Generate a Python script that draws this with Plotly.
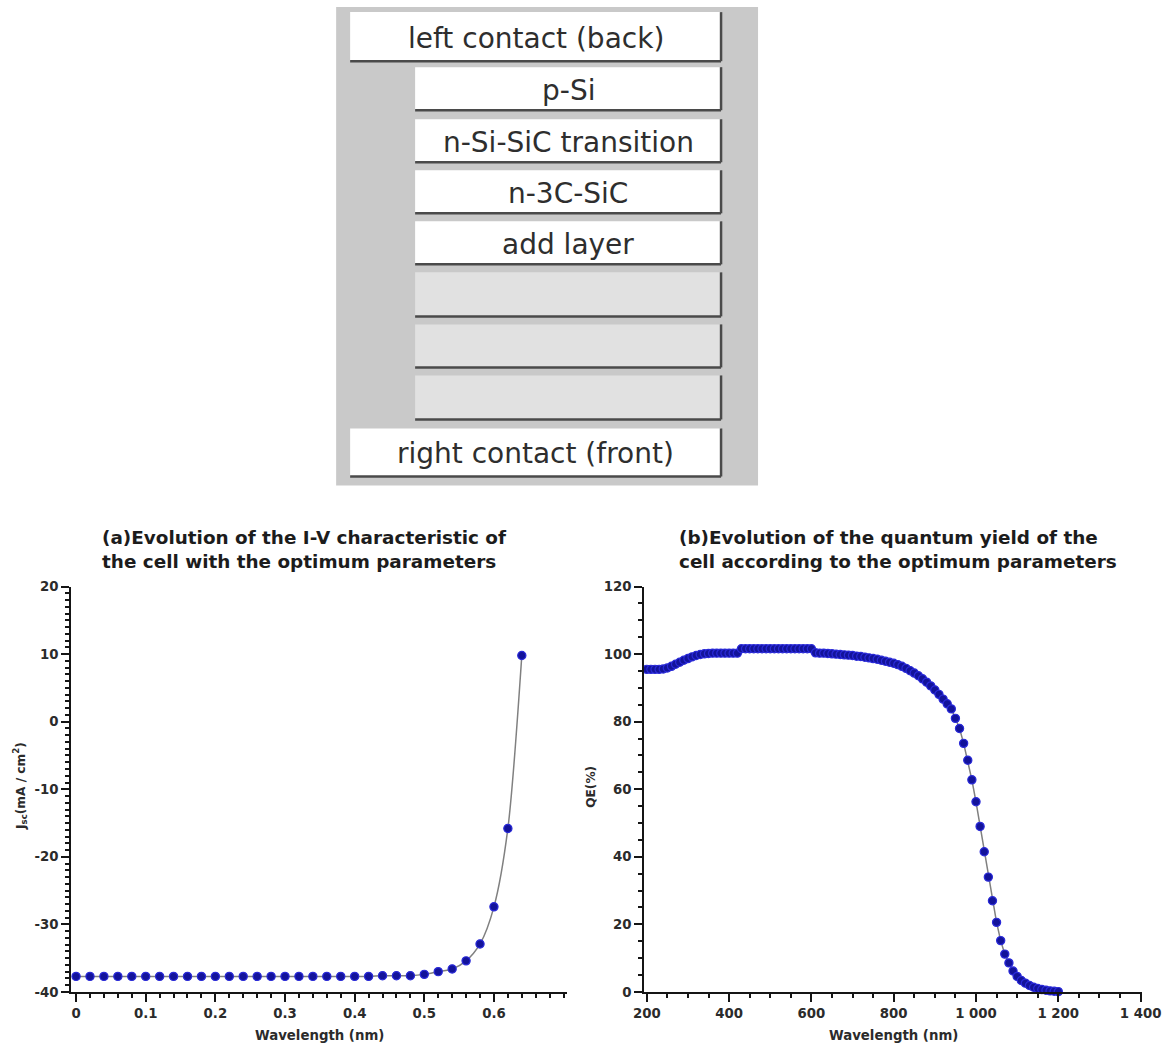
import plotly.graph_objects as go

# ---------------------------------------------------------------------------
# Data
# ---------------------------------------------------------------------------
# Layer stack of the simulated cell (top to bottom)
layer_labels = ["left contact (back)", "p-Si", "n-Si-SiC transition", "n-3C-SiC",
                "add layer", "", "", "", "right contact (front)"]

# (a) I-V characteristic
iv_voltage = [0.00, 0.02, 0.04, 0.06, 0.08, 0.10, 0.12, 0.14, 0.16, 0.18,
              0.20, 0.22, 0.24, 0.26, 0.28, 0.30, 0.32, 0.34, 0.36, 0.38,
              0.40, 0.42, 0.44, 0.46, 0.48, 0.50, 0.52, 0.54, 0.56, 0.58,
              0.60, 0.62, 0.64]
iv_current = [-37.7, -37.7, -37.7, -37.7, -37.7, -37.7, -37.7, -37.7, -37.7, -37.7,
              -37.7, -37.7, -37.7, -37.7, -37.7, -37.7, -37.7, -37.7, -37.7, -37.7,
              -37.7, -37.7, -37.6, -37.6, -37.6, -37.4, -37.0, -36.6, -35.4, -32.9,
              -27.4, -15.8, 9.8]
iv_xticks = [0, 0.1, 0.2, 0.3, 0.4, 0.5, 0.6]
iv_xticklabels = ["0", "0.1", "0.2", "0.3", "0.4", "0.5", "0.6"]
iv_yticks = [-40, -30, -20, -10, 0, 10, 20]
iv_yticklabels = ["-40", "-30", "-20", "-10", "0", "10", "20"]

# (b) quantum efficiency
qe_wavelength = [200, 210, 220, 230, 240, 250, 260, 270, 280, 290,
                 300, 310, 320, 330, 340, 350, 360, 370, 380, 390,
                 400, 410, 420, 430, 440, 450, 460, 470, 480, 490,
                 500, 510, 520, 530, 540, 550, 560, 570, 580, 590,
                 600, 610, 620, 630, 640, 650, 660, 670, 680, 690,
                 700, 710, 720, 730, 740, 750, 760, 770, 780, 790,
                 800, 810, 820, 830, 840, 850, 860, 870, 880, 890,
                 900, 910, 920, 930, 940, 950, 960, 970, 980, 990,
                 1000, 1010, 1020, 1030, 1040, 1050, 1060, 1070, 1080, 1090,
                 1100, 1110, 1120, 1130, 1140, 1150, 1160, 1170, 1180, 1190,
                 1200]
qe_percent = [95.5, 95.5, 95.5, 95.5, 95.6, 95.9, 96.4, 97.0, 97.6, 98.2,
              98.7, 99.2, 99.6, 99.9, 100.1, 100.2, 100.3, 100.3, 100.3, 100.3,
              100.3, 100.3, 100.3, 101.6, 101.6, 101.6, 101.6, 101.6, 101.6, 101.6,
              101.6, 101.6, 101.6, 101.6, 101.6, 101.6, 101.6, 101.6, 101.6, 101.6,
              101.6, 100.4, 100.3, 100.3, 100.2, 100.1, 100.0, 99.9, 99.8, 99.7,
              99.6, 99.4, 99.3, 99.1, 98.9, 98.7, 98.5, 98.2, 97.9, 97.6,
              97.3, 96.9, 96.4, 95.8, 95.1, 94.4, 93.6, 92.7, 91.7, 90.6,
              89.4, 88.1, 86.7, 85.3, 83.8, 81.0, 78.0, 73.6, 68.6, 62.8,
              56.3, 49.0, 41.5, 34.0, 27.0, 20.6, 15.2, 11.2, 8.6, 6.2,
              4.6, 3.4, 2.6, 1.9, 1.4, 1.0, 0.7, 0.5, 0.3, 0.2,
              0.1]
qe_xticks = [200, 400, 600, 800, 1000, 1200, 1400]
qe_xticklabels = ["200", "400", "600", "800", "1 000", "1 200", "1 400"]
qe_yticks = [0, 20, 40, 60, 80, 100, 120]

# ---------------------------------------------------------------------------
# Page geometry: layout positions are given in output-image pixels and
# converted to paper coordinates of a figure sitting inside the 8px body margin.
# ---------------------------------------------------------------------------
BODY_MARGIN = 8
SX, SY = 0.975, 0.985          # page-to-image scale of the capture
FIG_W, FIG_H = 1190, 1058
K = 1 / ((SX + SY) / 2)        # size factor for fonts and markers


def px(x):
    return (x / SX - BODY_MARGIN) / FIG_W


def py(y):
    return 1 - (y / SY - BODY_MARGIN) / FIG_H


INK = "#151515"
TICK_FONT = dict(family="DejaVu Sans", size=round(13 * K, 1), color="#2b2b2b",
                 weight="bold")
MARKER = dict(color="#13139a", size=round(8 * K, 1),
              line=dict(color="#2a2ad8", width=1.2))

fig = go.Figure()

fig.add_trace(go.Scatter(
    x=iv_voltage, y=iv_current, mode="lines+markers",
    line=dict(color="#808080", width=1.5, shape="spline", smoothing=0.8),
    marker=MARKER, cliponaxis=False, xaxis="x", yaxis="y", showlegend=False))

fig.add_trace(go.Scatter(
    x=qe_wavelength, y=qe_percent, mode="lines+markers",
    line=dict(color="#808080", width=1.5),
    marker=MARKER, cliponaxis=False, xaxis="x2", yaxis="y2",
    showlegend=False))


def axis_style(**kw):
    base = dict(showline=True, linecolor=INK, linewidth=2, ticks="outside",
                ticklen=8, tickwidth=2, tickcolor=INK, showgrid=False,
                zeroline=False, tickfont=TICK_FONT, fixedrange=True)
    base.update(kw)
    return base


def minor_style(dtick, tick0):
    return dict(dtick=dtick, tick0=tick0, ticks="outside", ticklen=4,
                tickwidth=1.5, tickcolor=INK, showgrid=False)


plot_y = [py(992), py(587)]

fig.update_layout(
    width=FIG_W, height=FIG_H, autosize=False,
    margin=dict(l=0, r=0, t=0, b=0),
    paper_bgcolor="white", plot_bgcolor="white",
    xaxis=axis_style(domain=[px(68), px(564)], range=[-0.007, 0.705], anchor="y",
                     tickmode="array", tickvals=iv_xticks, ticktext=iv_xticklabels,
                     minor=minor_style(0.02, 0)),
    yaxis=axis_style(domain=plot_y, range=[-40, 20], anchor="x",
                     tickmode="array", tickvals=iv_yticks, ticktext=iv_yticklabels,
                     minor=minor_style(1, 0)),
    xaxis2=axis_style(domain=[px(641), px(1139)], range=[193.4, 1403.3], anchor="y2",
                      tickmode="array", tickvals=qe_xticks, ticktext=qe_xticklabels,
                      minor=minor_style(50, 200)),
    yaxis2=axis_style(domain=plot_y, range=[0, 120], anchor="x2",
                      tickmode="array", tickvals=qe_yticks,
                      minor=minor_style(5, 0)),
)

shapes = []
annotations = []

# ---------------------------------------------------------------------------
# Layer-stack panel
# ---------------------------------------------------------------------------
shapes.append(dict(type="rect", xref="paper", yref="paper",
                   x0=px(333), x1=px(755), y0=py(486), y1=1,
                   fillcolor="#c9c9c9", line=dict(width=0), layer="below"))

button_boxes = [(347, 13, 718, 62), (412, 68, 718, 111), (412, 120, 718, 163),
                (412, 171, 718, 214), (412, 222, 718, 265), (412, 273, 718, 317),
                (412, 325, 718, 368), (412, 376, 718, 420), (347, 429, 718, 477)]

for label, (x0, y0, x1, y1) in zip(layer_labels, button_boxes):
    fill = "#ffffff" if label else "#e1e1e1"
    shapes.append(dict(type="rect", xref="paper", yref="paper",
                       x0=px(x0), x1=px(x1), y0=py(y1), y1=py(y0),
                       fillcolor=fill, line=dict(width=0), layer="below"))
    # raised-button shadow on the right and bottom edges
    shapes.append(dict(type="line", xref="paper", yref="paper",
                       x0=px(x1), x1=px(x1), y0=py(y1), y1=py(y0),
                       line=dict(color="#4a4a4a", width=2.5)))
    shapes.append(dict(type="line", xref="paper", yref="paper",
                       x0=px(x0), x1=px(x1), y0=py(y1), y1=py(y1),
                       line=dict(color="#4a4a4a", width=2.5)))
    if label:
        annotations.append(dict(
            text=label, xref="paper", yref="paper",
            x=px((x0 + x1) / 2), y=py((y0 + y1) / 2 + 1.5),
            xanchor="center", yanchor="middle", showarrow=False,
            font=dict(family="DejaVu Sans", size=28, color="#2e2e2e")))

# ---------------------------------------------------------------------------
# Chart titles and axis titles
# ---------------------------------------------------------------------------
TITLE_FONT = dict(family="DejaVu Sans", size=round(18 * K, 1), color="#1c1c1c",
                  weight="bold")
title_lines = [
    (97, 538, "(a)Evolution of the I-V characteristic of"),
    (97, 562, "the cell with the optimum parameters"),
    (674, 538, "(b)Evolution of the quantum yield of the"),
    (674, 562, "cell according to the optimum parameters"),
]
for x, y, text in title_lines:
    annotations.append(dict(text=text, xref="paper", yref="paper",
                            x=px(x), y=py(y), xanchor="left", yanchor="middle",
                            showarrow=False, font=TITLE_FONT))

AXIS_TITLE_FONT = dict(family="DejaVu Sans", size=round(12 * K, 1), color="#2b2b2b",
                       weight="bold")
annotations += [
    dict(text="Wavelength (nm)", xref="paper", yref="paper", x=px(316), y=py(1036),
         xanchor="center", yanchor="middle", showarrow=False,
         font=dict(AXIS_TITLE_FONT, size=round(13 * K, 1))),
    dict(text="Wavelength (nm)", xref="paper", yref="paper", x=px(890), y=py(1036),
         xanchor="center", yanchor="middle", showarrow=False,
         font=dict(AXIS_TITLE_FONT, size=round(13 * K, 1))),
    dict(text="J<sub>sc</sub>(mA / cm<sup>2</sup>)", xref="paper", yref="paper",
         x=px(17), y=py(786), xanchor="center", yanchor="middle", textangle=-90,
         showarrow=False, font=AXIS_TITLE_FONT),
    dict(text="QE(%)", xref="paper", yref="paper", x=px(588), y=py(787),
         xanchor="center", yanchor="middle", textangle=-90,
         showarrow=False, font=AXIS_TITLE_FONT),
]

fig.update_layout(shapes=shapes, annotations=annotations)

fig.write_html("out.html")
